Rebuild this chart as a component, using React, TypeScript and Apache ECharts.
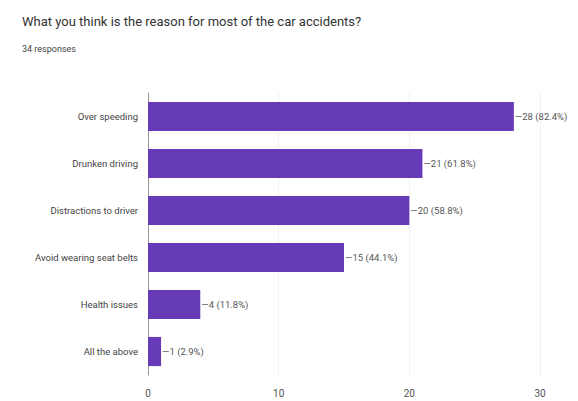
import React, { useEffect, useRef } from "react";
import * as echarts from "echarts";

const categories = [
  "Over speeding",
  "Drunken driving",
  "Distractions to driver",
  "Avoid wearing seat belts",
  "Health issues",
  "All the above",
];
const counts = [28, 21, 20, 15, 4, 1];
const percents = ["82.4%", "61.8%", "58.8%", "44.1%", "11.8%", "2.9%"];
const xTicks = [0, 10, 20, 30];

export default function App() {
  const ref = useRef<HTMLDivElement>(null);
  useEffect(() => {
    if (!ref.current) return;
    const chart = echarts.init(ref.current, undefined, { renderer: "svg" });
    chart.setOption({
      animation: false,
      backgroundColor: "#ffffff",
      textStyle: { fontFamily: "Roboto" },
      title: [
        {
          text: "What you think is the reason for most of the car accidents?",
          left: 9,
          top: 2,
          textStyle: { fontSize: 13, fontWeight: "normal", color: "#333333", fontFamily: "Roboto" },
        },
        {
          text: "34 responses",
          left: 9,
          top: 31,
          textStyle: { fontSize: 9, fontWeight: "normal", color: "#444444", fontFamily: "Roboto" },
        },
      ],
      grid: { left: 140, right: 38, top: 85, bottom: 26, containLabel: false },
      xAxis: {
        type: "value",
        min: xTicks[0],
        max: xTicks[xTicks.length - 1],
        interval: 10,
        axisLine: { show: false },
        axisTick: { show: false },
        splitLine: { show: true, lineStyle: { color: "#f0f0f0", width: 1 } },
        axisLabel: { color: "#555555", fontSize: 10, margin: 13 },
      },
      yAxis: {
        type: "category",
        inverse: true,
        data: categories,
        axisLine: { show: true, lineStyle: { color: "#999999", width: 1 } },
        axisTick: { show: false },
        axisLabel: { color: "#444444", fontSize: 9.5, margin: 10 },
      },
      series: [
        {
          type: "bar",
          data: counts,
          barWidth: "62%",
          itemStyle: { color: "#673ab7" },
          label: {
            show: true,
            position: "right",
            distance: 1,
            color: "#555555",
            fontSize: 9.5,
            formatter: (p: any) => `\u2014${p.value} (${percents[p.dataIndex]})`,
          },
        },
      ],
    });
    return () => chart.dispose();
  }, []);
  return <div ref={ref} style={{ width: 570, height: 393 }} />;
}
